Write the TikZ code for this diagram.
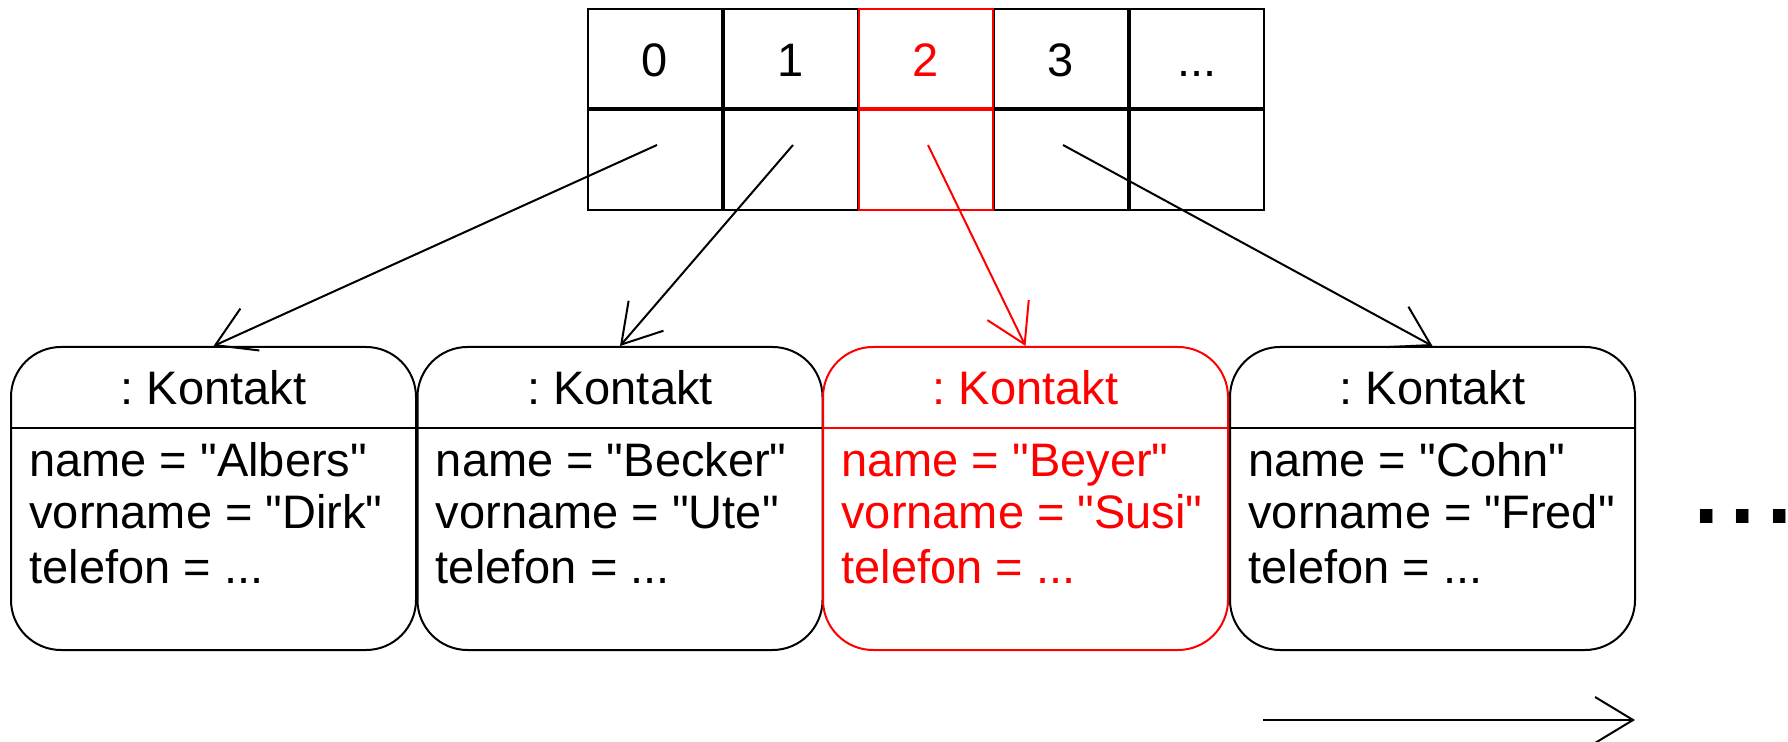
\documentclass[tikz,border=0pt]{standalone}
\usepackage{fontspec}
\setmainfont{Liberation Sans}[Ligatures=TeXOff]
\usetikzlibrary{arrows.meta}
\begin{document}
\frenchspacing
\begin{tikzpicture}[x=0.5pt,y=-0.5pt,
  txt/.style={font=\fontsize{23.5}{26.5}\selectfont},
  cell/.style={draw, line width=1pt, minimum width=67pt, inner sep=0pt, anchor=north west, txt},
  topcell/.style={cell, minimum height=49.5pt, text height=18.5pt, text depth=0pt},
  botcell/.style={cell, minimum height=50pt},
  kbox/.style={draw, line width=1pt, rounded corners=25pt, minimum width=202.5pt, minimum height=151.5pt, inner sep=0pt},
  ptr/.style={line width=1pt, -{Straight Barb[length=19pt,width=23pt,line width=1pt]}},
  attr/.style={txt, anchor=base west, inner sep=0pt},
  hl/.style={draw=red, text=red, color=red}
]
\useasboundingbox (0,0) rectangle (1788,742);
\fill[white] (0,0) rectangle (1788,742);

% array cells
\node[topcell] (t0) at (587,8) {0};
\node[topcell] (t1) at (723,8) {1};
\node[topcell] (t3) at (993,8) {3};
\node[topcell] (t4) at (1129,8) {...};
\node[botcell] (b0) at (587,109) {};
\node[botcell] (b1) at (723,109) {};
\node[botcell] (b3) at (993,109) {};
\node[botcell] (b4) at (1129,109) {};
\node[topcell, hl] (t2) at (858,8) {2};
\node[botcell, hl] (b2) at (858,109) {};

% Kontakt objects
\foreach \i/\cx/\nm/\vn in {0/213.5/Albers/Dirk, 1/620/Becker/Ute, 3/1432.5/Cohn/Fred}{
  \node[kbox] (k\i) at (\cx,498.5) {};
  \draw[line width=1pt] ([yshift=35.25pt]k\i.west) -- ([yshift=35.25pt]k\i.east);
  \node[txt, anchor=base, inner sep=0pt] (h\i) at ([yshift=-29.5pt]k\i.north) {: Kontakt};
  \node[attr] (a\i) at ([xshift=9.5pt,yshift=-65.5pt]k\i.north west) {name = "\nm"};
  \node[attr] (v\i) at ([xshift=9.5pt,yshift=-91.5pt]k\i.north west) {vorname = "\vn"};
  \node[attr] (p\i) at ([xshift=9.5pt,yshift=-118.5pt]k\i.north west) {telefon = ...};
}
\begin{scope}[red]
  \node[kbox, draw=red] (k2) at (1025.5,498.5) {};
  \draw[line width=1pt] ([yshift=35.25pt]k2.west) -- ([yshift=35.25pt]k2.east);
  \node[txt, anchor=base, inner sep=0pt, text=red] (h2) at ([yshift=-29.5pt]k2.north) {: Kontakt};
  \node[attr, text=red] (a2) at ([xshift=9.5pt,yshift=-65.5pt]k2.north west) {name = "Beyer"};
  \node[attr, text=red] (v2) at ([xshift=9.5pt,yshift=-91.5pt]k2.north west) {vorname = "Susi"};
  \node[attr, text=red] (p2) at ([xshift=9.5pt,yshift=-118.5pt]k2.north west) {telefon = ...};
\end{scope}

% pointers
\draw[ptr] ([xshift=1pt,yshift=7.5pt]b0.center) -- (k0.north);
\draw[ptr] ([xshift=1pt,yshift=7.5pt]b1.center) -- (k1.north);
\draw[ptr, red] ([xshift=1pt,yshift=7.5pt]b2.center) -- (k2.north);
\draw[ptr] ([xshift=1pt,yshift=7.5pt]b3.center) -- (k3.north);

% continuation dots
\node[anchor=base west, inner sep=0pt, font=\fontsize{65.5}{66}\selectfont] (more) at (1688,524) {...\kern-0.1em};

% direction arrow
\coordinate (da) at (1263,720);
\coordinate (db) at (1635,720);
\draw[ptr] (da) -- (db);
\end{tikzpicture}
\end{document}
